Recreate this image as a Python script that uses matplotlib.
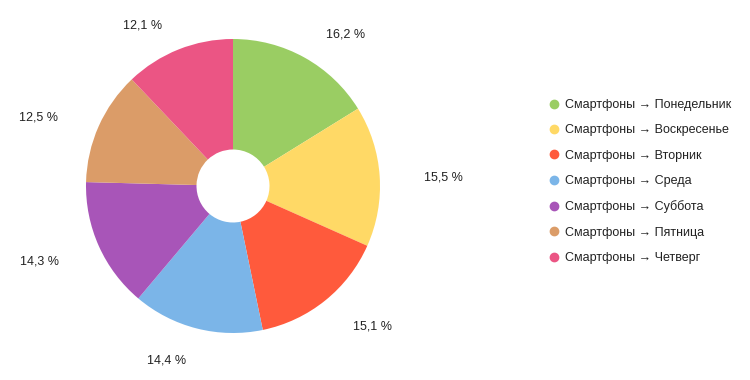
import numpy as np
import matplotlib.pyplot as plt
from matplotlib.lines import Line2D

plt.rcParams['font.family'] = ['Liberation Sans', 'DejaVu Sans']

days = ["Понедельник", "Воскресенье", "Вторник", "Среда", "Суббота", "Пятница", "Четверг"]
values = [16.2, 15.5, 15.1, 14.4, 14.3, 12.5, 12.1]
colors = ["#9ACD63", "#FFD966", "#FF5A3C", "#7BB5E8", "#A855B8", "#DB9C68", "#EB5584"]
labels = ["Смартфоны → " + d for d in days]

fig = plt.figure(figsize=(7.5, 3.8), dpi=100)
ax = fig.add_axes([0, 0, 1, 1])

cx, cy = 233, 194
R = 147
hole = 36.5

wedges, _ = ax.pie(values, colors=colors, startangle=90, counterclock=False,
                   center=(cx, cy), radius=R, frame=True,
                   wedgeprops=dict(width=R - hole, linewidth=0))
ax.set_xlim(0, 750)
ax.set_ylim(0, 380)
ax.set_aspect("equal")
ax.axis("off")

# percentage labels outside the slices (slightly elliptical placement)
rx, ry = R * 1.3, R * 1.2
for w, v in zip(wedges, values):
    mid = np.deg2rad((w.theta1 + w.theta2) / 2)
    x = cx + rx * np.cos(mid)
    y = cy - 3 + ry * np.sin(mid)
    ha = "left" if np.cos(mid) > 0 else "right"
    txt = ("%.1f %%" % v).replace(".", ",")
    ax.text(x, y, txt, ha=ha, va="center", fontsize=9, color="#222222")

handles = [Line2D([0], [0], marker="o", linestyle="", markersize=6,
                  markerfacecolor=c, markeredgecolor=c) for c in colors]
leg = fig.legend(handles, labels, loc="upper left", bbox_to_anchor=(549 / 750, 1 - 99 / 380),
                 frameon=False, fontsize=9, labelspacing=1.07, handlelength=0.8,
                 handletextpad=0.5, borderpad=0, borderaxespad=0)
for t in leg.get_texts():
    t.set_color("#222222")

fig.savefig("out.png", dpi=100)
